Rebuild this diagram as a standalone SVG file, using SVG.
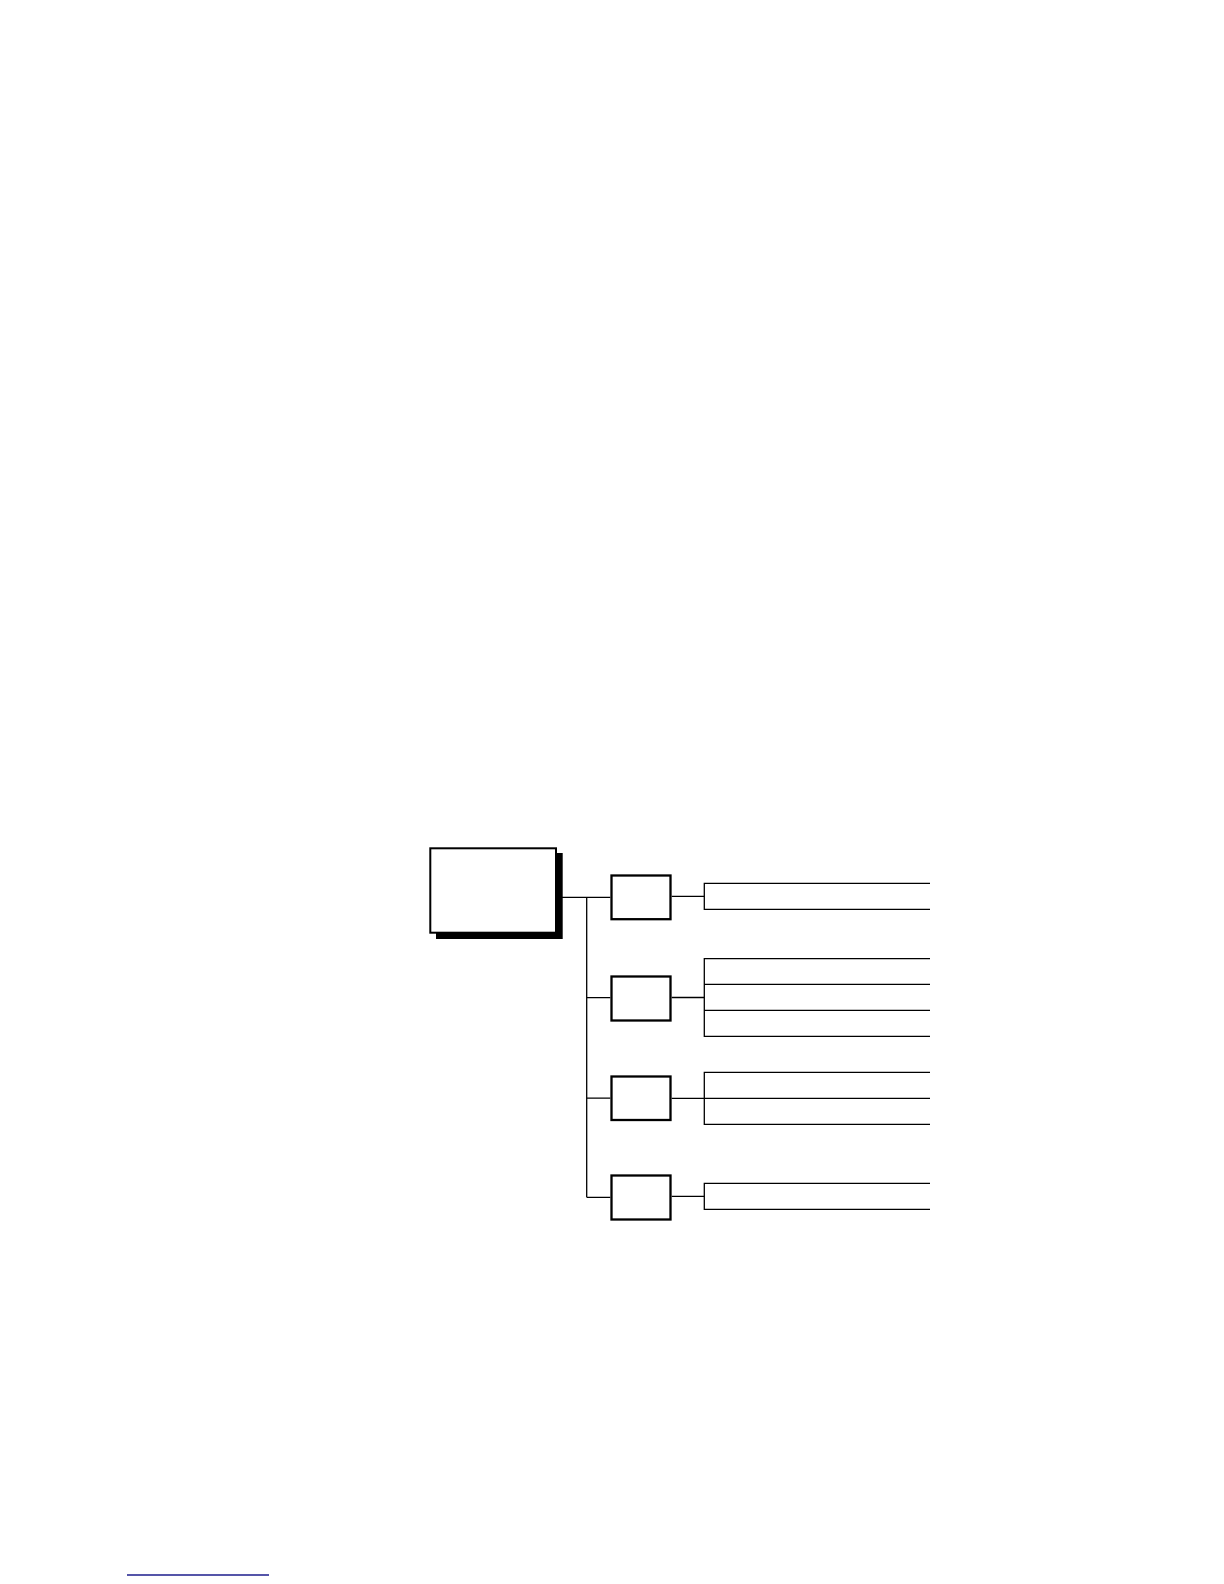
<svg xmlns="http://www.w3.org/2000/svg" width="1224" height="1584" viewBox="0 0 1224 1584">
<style>
.box{fill:#fff;stroke:#000;stroke-width:2.3}
.main{fill:#fff;stroke:#000;stroke-width:2}
.shadow{fill:#000;stroke:none}
.ln{fill:none;stroke:#000;stroke-width:1.3}
.row{fill:none;stroke:#000;stroke-width:1.3}
</style>
<rect width="1224" height="1584" fill="#fff"/>
<g id="connectors">
<path class="ln" d="M557 897.3H610.3M586.7 897.3V1197.3M586.7 997.7H610.3M586.7 1098.2H610.3M586.7 1197.3H610.3"/>
<path class="ln" d="M671.7 896.3H704.3M671.7 997.5H704.3M671.7 1098.3H704.3M671.7 1196.3H704.3"/>
</g>
<g id="main">
<rect class="shadow" x="436" y="853" width="126.7" height="86"/>
<rect class="main" x="430.3" y="848.3" width="125.7" height="84.4"/>
</g>
<g id="box1"><rect class="box" x="611.5" y="875.5" width="59" height="43.7"/></g>
<g id="box2"><rect class="box" x="611.5" y="976.5" width="59" height="44"/></g>
<g id="box3"><rect class="box" x="611.5" y="1076.5" width="59" height="43.5"/></g>
<g id="box4"><rect class="box" x="611.5" y="1175.5" width="59" height="44"/></g>
<g id="rows1"><path class="row" d="M930 883.3H704.3V909.3H930"/></g>
<g id="rows2"><path class="row" d="M930 958.7H704.3V1036.3H930M704.3 984.3H930M704.3 1010.3H930"/></g>
<g id="rows3"><path class="row" d="M930 1072.3H704.3V1124.3H930M704.3 1098.3H930"/></g>
<g id="rows4"><path class="row" d="M930 1183.3H704.3V1209.3H930"/></g>
<line x1="127" y1="1575" x2="269" y2="1575" stroke="#1c1c8c" stroke-width="1.3"/>
</svg>
